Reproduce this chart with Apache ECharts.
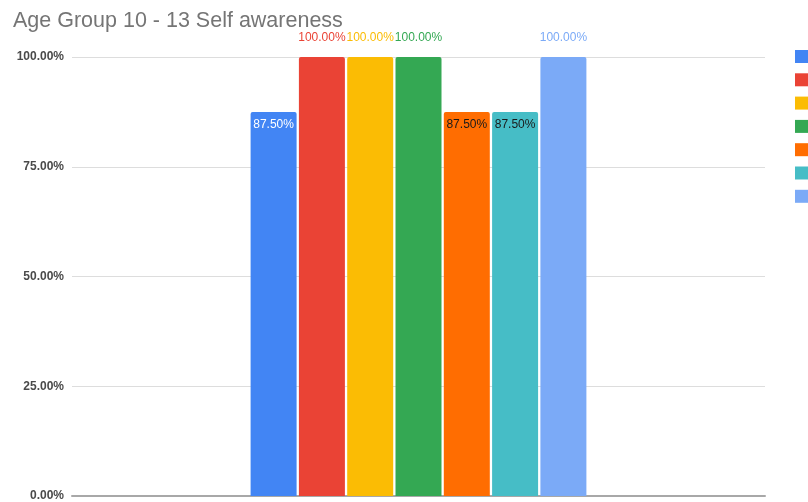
<!DOCTYPE html>
<html>
<head>
<meta charset="utf-8">
<script src="https://cdn.jsdelivr.net/npm/echarts@6/dist/echarts.min.js"></script>
<style>
  html, body { margin: 0; padding: 0; background: #fff; }
  #chart { width: 808px; height: 502px; }
</style>
</head>
<body>
<div id="chart"></div>
<script>
// One category, seven answer series (values in percent)
const categories = ['Self awareness'];
const seriesNames = ['Q1', 'Q2', 'Q3', 'Q4', 'Q5', 'Q6', 'Q7'];
const seriesValues = [87.5, 100, 100, 100, 87.5, 87.5, 100];
const seriesColors = ['#4285F4', '#EA4335', '#FBBC04', '#34A853', '#FF6D01', '#46BDC6', '#7BAAF7'];
const yTicks = [0, 25, 50, 75, 100];

// Label placement per bar: full bars get the value above in the bar colour,
// shorter bars get it just inside the top.
const labelStyles = [
  { position: 'insideTop', distance: 7, color: '#ffffff' },
  { position: 'top', distance: 13, color: '#EA4335' },
  { position: 'top', distance: 13, color: '#FBBC04' },
  { position: 'top', distance: 13, color: '#34A853' },
  { position: 'insideTop', distance: 7, color: '#1a1a1a' },
  { position: 'insideTop', distance: 7, color: '#1a1a1a' },
  { position: 'top', distance: 13, color: '#7BAAF7' }
];

const fmtPct = v => Number(v).toFixed(2) + '%';

const chart = echarts.init(document.getElementById('chart'), null, { renderer: 'canvas' });

chart.setOption({
  animation: false,
  backgroundColor: '#ffffff',
  textStyle: { fontFamily: 'Liberation Sans, Arial, sans-serif' },
  title: {
    text: 'Age Group 10 - 13 Self awareness',
    left: 8,
    top: 5,
    textStyle: { fontSize: 21.5, fontWeight: 'normal', color: '#757575' }
  },
  legend: {
    orient: 'vertical',
    left: 790,
    top: 45,
    itemWidth: 13,
    itemHeight: 13,
    itemGap: 10.3,
    icon: 'rect',
    formatter: () => '',
    data: seriesNames
  },
  grid: { left: 72, right: 43, top: 57, bottom: 6, containLabel: false },
  xAxis: {
    type: 'category',
    data: categories,
    axisLine: { show: true, lineStyle: { color: '#a8a8a8', width: 2 } },
    axisTick: { show: false },
    axisLabel: { show: false }
  },
  yAxis: {
    type: 'value',
    min: yTicks[0],
    max: yTicks[yTicks.length - 1],
    interval: 25,
    axisLine: { show: false },
    axisTick: { show: false },
    splitLine: { lineStyle: { color: '#dddddd', width: 1 } },
    axisLabel: {
      formatter: fmtPct,
      fontSize: 12,
      fontWeight: 'bold',
      color: '#4a4a4a',
      margin: 8
    }
  },
  series: seriesNames.map((name, i) => ({
    name,
    type: 'bar',
    data: [seriesValues[i]],
    barWidth: 46,
    barGap: '5%',
    itemStyle: { color: seriesColors[i], borderRadius: [2, 2, 0, 0] },
    label: {
      show: true,
      position: labelStyles[i].position,
      distance: labelStyles[i].distance,
      color: labelStyles[i].color,
      fontSize: 12,
      formatter: p => fmtPct(p.value)
    }
  }))
});
</script>
</body>
</html>
